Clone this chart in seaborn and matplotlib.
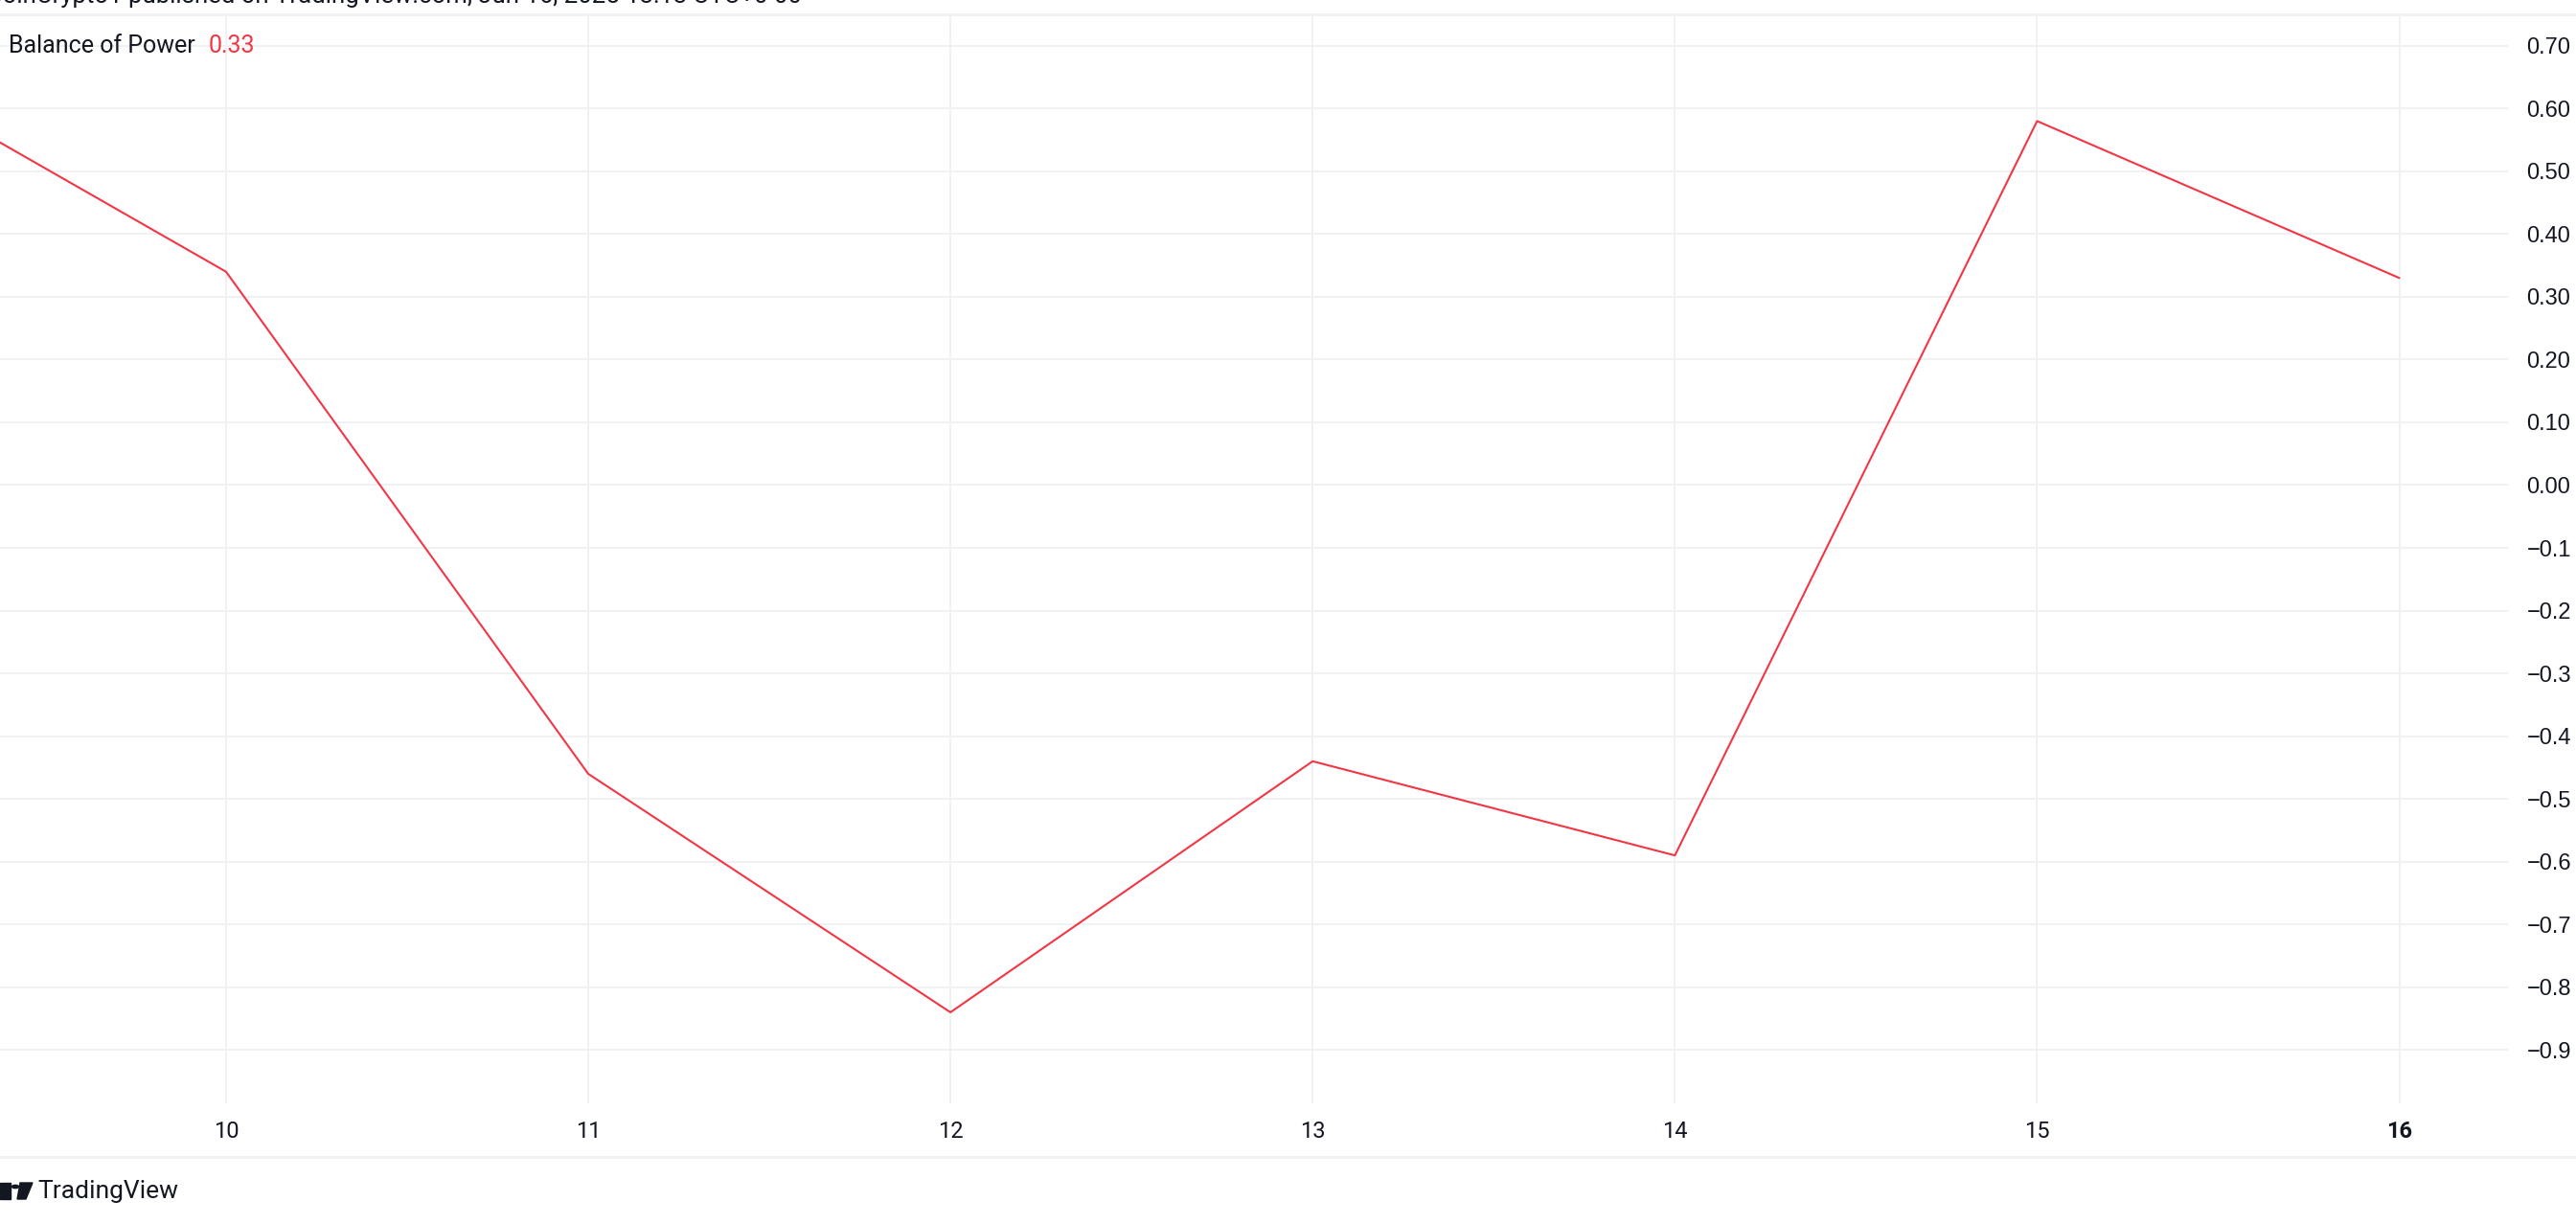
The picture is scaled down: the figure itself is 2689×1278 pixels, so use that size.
import matplotlib
matplotlib.use('Agg')
import matplotlib.pyplot as plt
from matplotlib.patches import Rectangle, Circle, Polygon
import seaborn as sns

# daily Balance of Power values (June)
days = [9, 10, 11, 12, 13, 14, 15, 16]
bop = [0.67, 0.34, -0.46, -0.84, -0.44, -0.59, 0.58, 0.33]

x_ticks = [10, 11, 12, 13, 14, 15, 16]
y_ticks = [0.7, 0.6, 0.5, 0.4, 0.3, 0.2, 0.1, 0.0, -0.1, -0.2, -0.3,
           -0.4, -0.5, -0.6, -0.7, -0.8, -0.9]
y_labels = ['0.70', '0.60', '0.50', '0.40', '0.30', '0.20', '0.10', '0.00',
            '\u22120.1', '\u22120.2', '\u22120.3', '\u22120.4', '\u22120.5',
            '\u22120.6', '\u22120.7', '\u22120.8', '\u22120.9']

line_color = '#F23645'
grid_color = '#F0F1F3'
text_color = '#131722'

sns.set_style('white')
plt.rcParams['font.family'] = ['Roboto', 'DejaVu Sans']

W, H = 2689, 1278
fig = plt.figure(figsize=(W / 100, H / 100), dpi=100)
ax = fig.add_axes([0, 1 - 1152 / H, 2618 / W, (1152 - 15) / H])

sns.lineplot(x=days, y=bop, ax=ax, color=line_color, linewidth=1.5)

ax.set_xlim(9.376, 16.30)
ax.set_ylim(-0.985, 0.750)

ax.set_xticks(x_ticks)
ax.set_xticklabels([str(d) for d in x_ticks])
ax.set_yticks(y_ticks)
ax.set_yticklabels(y_labels, family=['Liberation Sans', 'DejaVu Sans'])
ax.yaxis.tick_right()
ax.tick_params(axis='x', length=0, pad=13, labelsize=17, labelcolor=text_color)
ax.tick_params(axis='y', length=0, pad=14, labelsize=17, labelcolor=text_color)
for lab in ax.get_yticklabels():
    lab.set_horizontalalignment('left')
ax.get_xticklabels()[-1].set_fontweight('bold')

ax.grid(True, color=grid_color, linewidth=1.4)
ax.set_axisbelow(True)
for s in ax.spines.values():
    s.set_visible(False)
ax.set_xlabel('')
ax.set_ylabel('')

# legend-like label in top-left corner
ax.text(9 / W, 1 - 48 / H, 'Balance of Power', transform=fig.transFigure,
        fontsize=18, color=text_color, va='center', ha='left')
ax.text(218 / W, 1 - 48 / H, f'{bop[-1]:.2f}', transform=fig.transFigure,
        fontsize=18, color=line_color, va='center', ha='left')

# separators
fig.add_artist(plt.Line2D([0, 1], [1 - 15 / H, 1 - 15 / H], color=grid_color, lw=2))
fig.add_artist(plt.Line2D([0, 1], [1 - 1208 / H, 1 - 1208 / H], color=grid_color, lw=2))

# header text, cut by the top edge
fig.text(-14 / W, 1 - 3 / H,
         'CoinCrypto1 published on TradingView.com, Jun 16, 2025 13:13 UTC+0 00',
         fontsize=18.5, color=text_color, va='baseline', ha='left')

# TradingView logo + name
fig.add_artist(Rectangle((0, 1 - 1252 / H), 11 / W, 17 / H, color=text_color,
                         transform=fig.transFigure))
fig.add_artist(Circle((16 / W, 1 - 1239 / H), 3.5 / W, color=text_color,
                      transform=fig.transFigure))
fig.add_artist(Polygon([(21 / W, 1 - 1235 / H), (34 / W, 1 - 1235 / H),
                        (27 / W, 1 - 1252 / H), (18 / W, 1 - 1252 / H)],
                       color=text_color, transform=fig.transFigure))
fig.text(39 / W, 1 - 1244 / H, 'TradingView', fontsize=19, color=text_color,
         va='center', ha='left')

fig.savefig('out.png', dpi=100)
